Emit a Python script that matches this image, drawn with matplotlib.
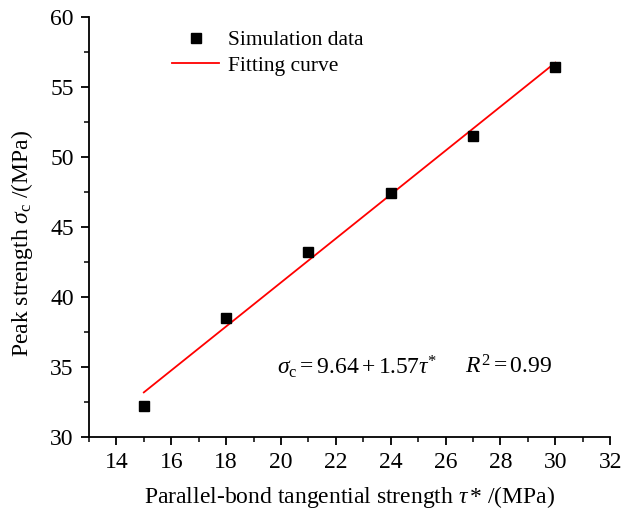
import numpy as np
import matplotlib
matplotlib.use('Agg')
import matplotlib.pyplot as plt
from matplotlib.ticker import MultipleLocator

plt.rcParams['font.family'] = 'Liberation Serif'
plt.rcParams['mathtext.fontset'] = 'custom'
plt.rcParams['mathtext.rm'] = 'Liberation Serif'
plt.rcParams['mathtext.it'] = 'Liberation Serif:italic'

# simulation data
tau = [15, 18, 21, 24, 27, 30]
sigma = [32.2, 38.5, 43.2, 47.4, 51.5, 56.4]

# linear fit coefficients
fit_a = 9.64
fit_b = 1.57
fit_x = [15, 30]

fig = plt.figure(figsize=(6.22, 5.16), dpi=100)
ax = fig.add_axes([0.143, 0.153, 0.838, 0.814])

xf = np.array(fit_x)
ax.plot(xf, fit_a + fit_b*xf, color='red', lw=1.3, label='Fitting curve', zorder=2)
ax.plot(tau, sigma, 's', color='black', ms=7.2, ls='none', label='Simulation data', zorder=3)

ax.set_xlim(13, 32)
ax.set_ylim(30, 60)
ax.xaxis.set_major_locator(MultipleLocator(2))
ax.xaxis.set_minor_locator(MultipleLocator(1))
ax.yaxis.set_major_locator(MultipleLocator(5))
ax.yaxis.set_minor_locator(MultipleLocator(2.5))
ax.set_xticks([14, 16, 18, 20, 22, 24, 26, 28, 30, 32])

for s in ['top', 'right']:
    ax.spines[s].set_visible(False)
for s in ['left', 'bottom']:
    ax.spines[s].set_linewidth(1.3)
ax.tick_params(which='major', direction='out', length=6, width=1.3, labelsize=17, pad=5)
ax.tick_params(which='minor', direction='out', length=3.5, width=1.1)

ax.set_xlabel('Parallel-bond tangential strength $\\tau\\,$* /(MPa)', fontsize=17, labelpad=8)
ax.set_ylabel('Peak strength $\\sigma_{\\rm c}$ /(MPa)', fontsize=17)
ax.yaxis.set_label_coords(-0.104, 0.46)

ax.text(19.85, 35.0, '$\\sigma_{\\rm c} = 9.64 + 1.57\\tau^{*}$', fontsize=17, ha='left', va='center')
ax.text(26.7, 35.0, '$R^{2} = 0.99$', fontsize=17, ha='left', va='center')

h, l = ax.get_legend_handles_labels()
ax.legend([h[1], h[0]], [l[1], l[0]], loc='upper left', bbox_to_anchor=(0.122, 1.015),
          frameon=False, fontsize=15.5, handlelength=2.2, handletextpad=0.4, labelspacing=0.25)

fig.savefig('out.png', dpi=100)
